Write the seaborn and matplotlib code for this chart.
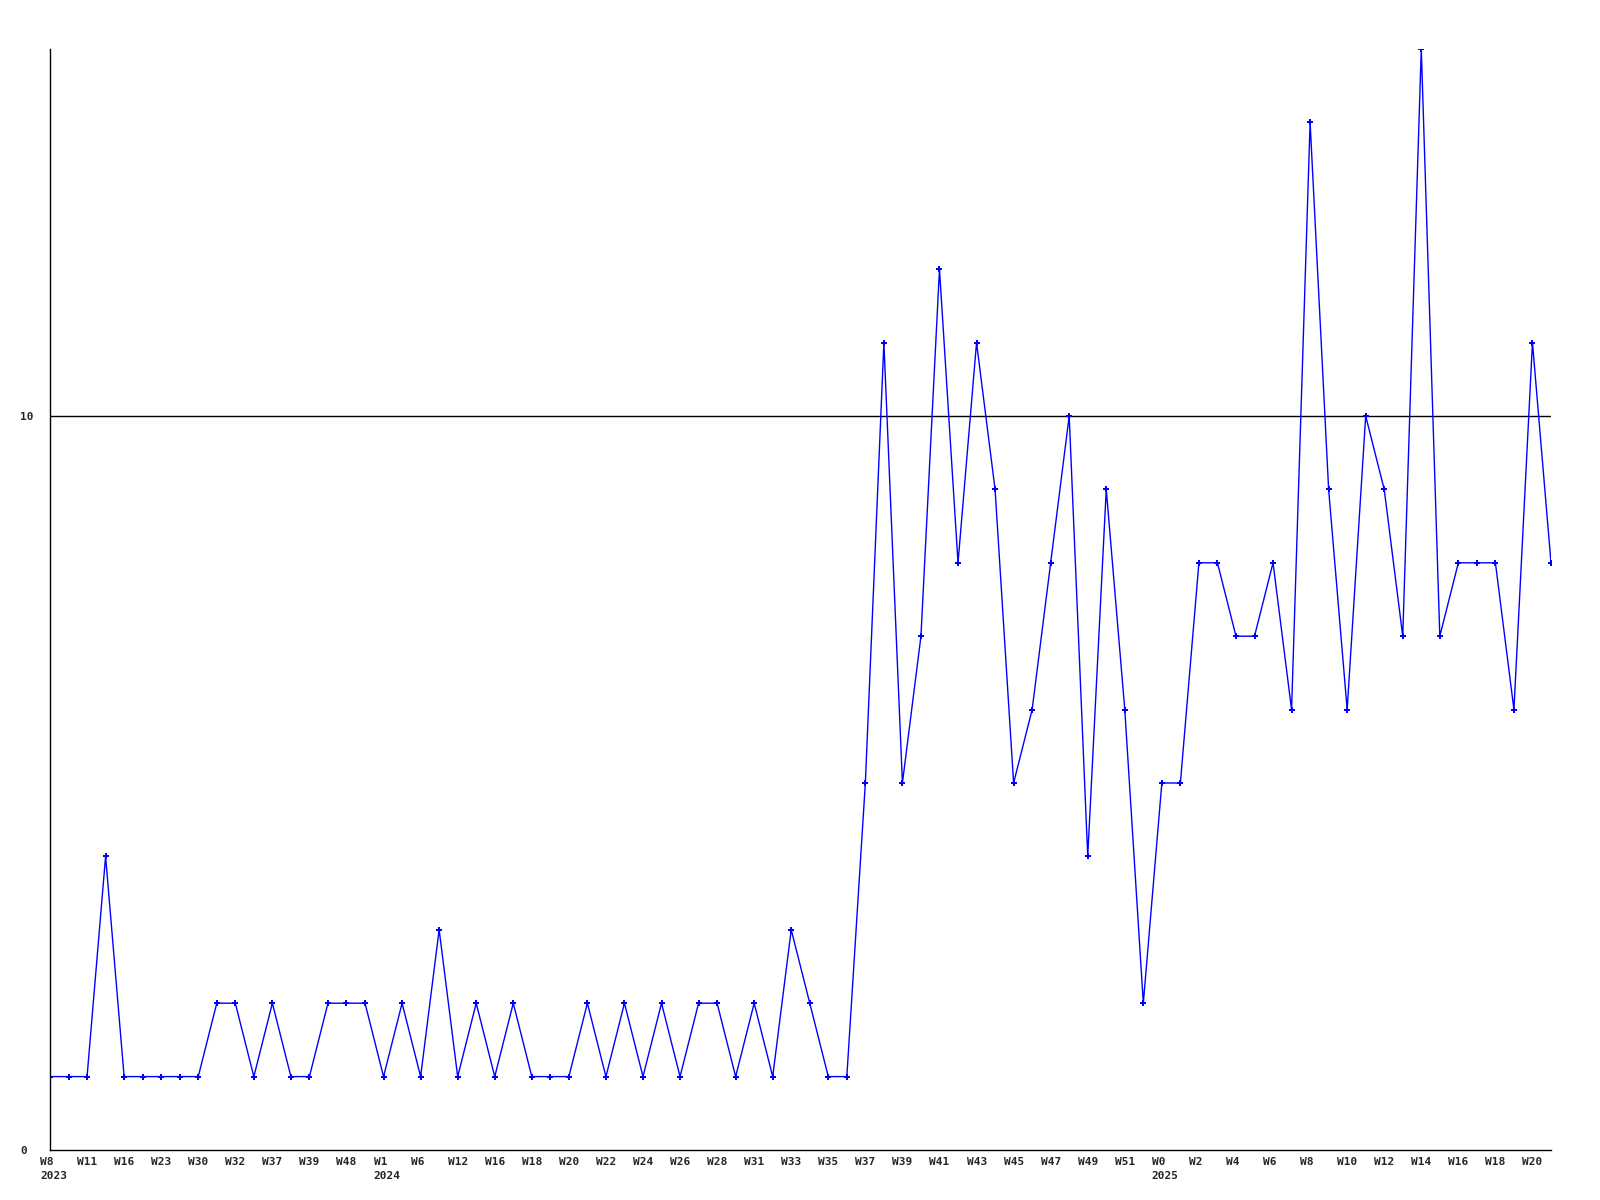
import matplotlib
matplotlib.use('Agg')
import matplotlib.pyplot as plt
import matplotlib.transforms as mtransforms
import numpy as np
import pandas as pd
import seaborn as sns

sns.set_style('white')
plt.rcParams['font.family'] = ['DejaVu Sans Mono']

# weekly counts, one per point
counts = [1, 1, 1, 4, 1, 1, 1, 1, 1, 2, 2, 1, 2, 1, 1, 2, 2, 2, 1, 2,
          1, 3, 1, 2, 1, 2, 1, 1, 1, 2, 1, 2, 1, 2, 1, 2, 2, 1, 2, 1,
          3, 2, 1, 1, 5, 11, 5, 7, 12, 8, 11, 9, 5, 6, 8, 10, 4, 9, 6, 2,
          5, 5, 8, 8, 7, 7, 8, 6, 14, 9, 6, 10, 9, 7, 15, 7, 8, 8, 8, 6,
          11, 8]

# labels shown on every second point
tick_labels = ['W8\n2023', 'W11', 'W16', 'W23', 'W30', 'W32', 'W37', 'W39', 'W48',
               'W1\n2024', 'W6', 'W12', 'W16', 'W18', 'W20', 'W22', 'W24', 'W26',
               'W28', 'W31', 'W33', 'W35', 'W37', 'W39', 'W41', 'W43', 'W45', 'W47',
               'W49', 'W51', 'W0\n2025', 'W2', 'W4', 'W6', 'W8', 'W10', 'W12', 'W14',
               'W16', 'W18', 'W20']

df = pd.DataFrame({'idx': np.arange(len(counts)), 'count': counts})

fig = plt.figure(figsize=(16, 12), dpi=100)
ax = fig.add_axes([50/1600, 50/1200, 1501/1600, 1101/1200])

sns.lineplot(data=df, x='idx', y='count', ax=ax, color='#0000ff', linewidth=1,
             marker='P', markersize=4, markeredgewidth=0, markerfacecolor='#0000ff')
ax.axhline(10, color='black', linewidth=1, zorder=0)

ax.set_xlim(0, len(counts) - 1)
ax.set_ylim(0, 15)
ax.set_xlabel('')
ax.set_ylabel('')

# x labels: left aligned a little before each point
ax.set_xticks([])
shift = mtransforms.ScaledTranslation(-10/100, -7/100, fig.dpi_scale_trans)
for pos, lab in zip(range(0, len(counts), 2), tick_labels):
    ax.text(pos, 0, lab, transform=ax.get_xaxis_transform() + shift,
            ha='left', va='top', fontsize=8, fontweight='bold', linespacing=1.5,
            clip_on=False)

ax.set_yticks([0, 10])
ax.set_yticklabels(['0', '10'], fontsize=8, fontweight='bold', ha='left')
ax.tick_params(axis='y', length=0, pad=21.6)
ax.tick_params(axis='x', length=0)

for s in ['top', 'right']:
    ax.spines[s].set_visible(False)
for s in ['left', 'bottom']:
    ax.spines[s].set_color('black')
    ax.spines[s].set_linewidth(1)

fig.savefig('out.png', dpi=100, facecolor='white')
